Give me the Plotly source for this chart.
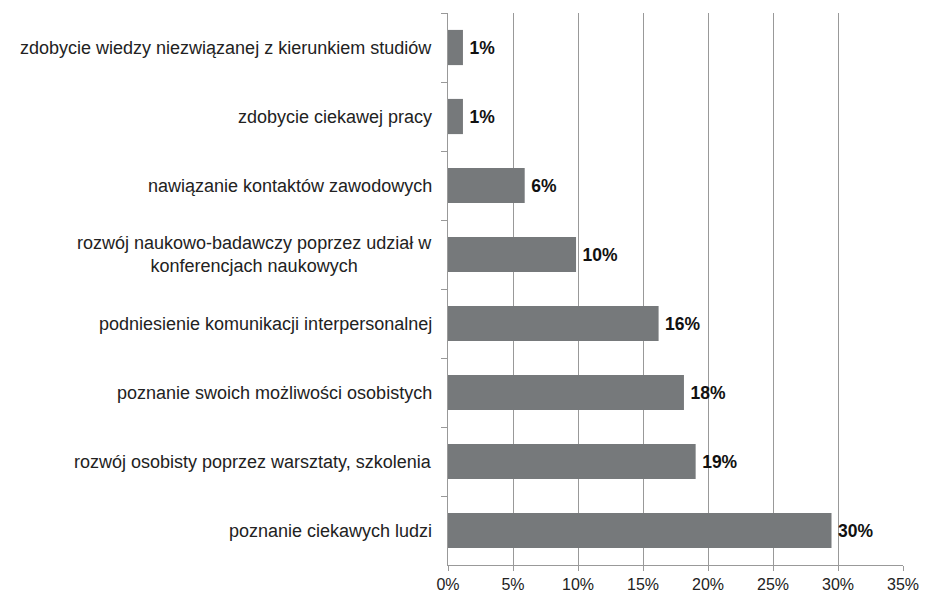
import plotly.graph_objects as go

categories = [
    "zdobycie wiedzy niezwiązanej z kierunkiem studiów",
    "zdobycie ciekawej pracy",
    "nawiązanie kontaktów zawodowych",
    "rozwój naukowo-badawczy poprzez udział w<br>konferencjach naukowych",
    "podniesienie komunikacji interpersonalnej",
    "poznanie swoich możliwości osobistych",
    "rozwój osobisty poprzez warsztaty, szkolenia",
    "poznanie ciekawych ludzi",
]
values = [1.15, 1.15, 5.9, 9.85, 16.2, 18.15, 19.05, 29.5]
x_ticks = [0, 5, 10, 15, 20, 25, 30, 35]
x_tick_labels = ["0%", "5%", "10%", "15%", "20%", "25%", "30%", "35%"]

FONT = "Liberation Sans, Arial, sans-serif"
BAR = "#76797b"
GRID = "#999999"

fig = go.Figure(
    go.Bar(
        x=values,
        y=categories,
        orientation="h",
        marker=dict(color=BAR, line=dict(width=0)),
        texttemplate="<b>\u2009%{x:.0f}%</b>",
        textposition="outside",
        textfont=dict(family=FONT, size=17.5, color="#111111"),
        cliponaxis=False,
        hoverinfo="skip",
    )
)

annotations = [
    dict(
        x=0, xref="paper", xanchor="right", xshift=-14,
        y=c, yref="y", yanchor="middle",
        text=c, showarrow=False, align="center",
        font=dict(family=FONT, size=18, color="#222222"),
    )
    for c in categories
]

fig.update_layout(
    width=935, height=601,
    margin=dict(l=440, r=40, t=5, b=44),
    paper_bgcolor="white", plot_bgcolor="white",
    bargap=0.49,
    showlegend=False,
    annotations=annotations,
    font=dict(family=FONT, size=16, color="#222222"),
)
fig.update_xaxes(
    range=[0, 35], tickmode="array", tickvals=x_ticks, ticktext=x_tick_labels,
    showgrid=True, gridcolor=GRID, gridwidth=1,
    showline=True, linecolor=GRID, linewidth=1,
    ticks="outside", ticklen=5, tickcolor=GRID,
    zeroline=False, fixedrange=True,
    tickfont=dict(family=FONT, size=16, color="#222222"),
)
fig.update_yaxes(
    autorange="reversed", showticklabels=False,
    showline=True, linecolor=GRID, linewidth=1,
    ticks="outside", tickson="boundaries", ticklen=6, tickcolor=GRID,
    showgrid=False, fixedrange=True,
)

fig.write_html("out.html")
